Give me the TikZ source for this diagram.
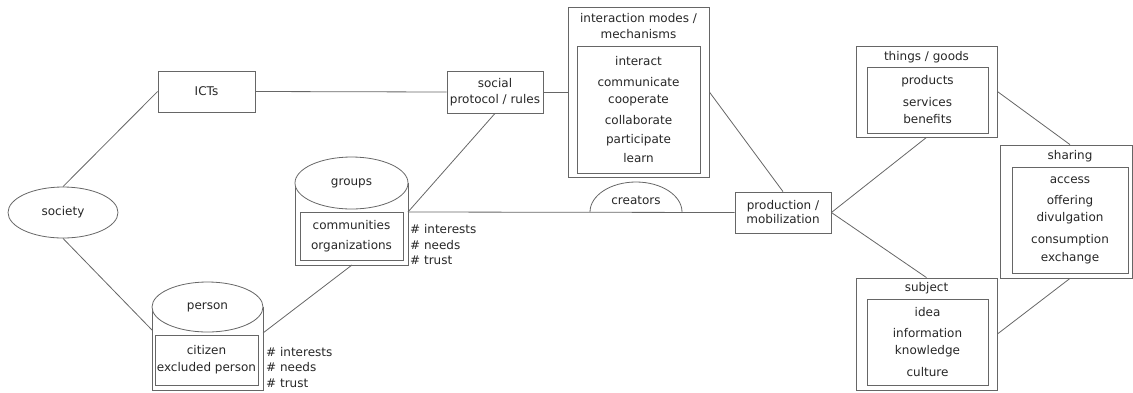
\documentclass[tikz,border=0pt]{standalone}
\usepackage{fontspec}
\setmainfont{DejaVu Sans}
\usetikzlibrary{shapes.geometric}
\begin{document}
\begin{tikzpicture}[x=1pt,y=-1pt,
  every node/.style={font=\fontsize{12}{13}\selectfont, text=black!85},
  box/.style={draw=black!60, line width=0.8pt, rectangle, inner sep=0pt, align=center},
  ell/.style={draw=black!60, line width=0.8pt, ellipse, inner sep=0pt},
  conn/.style={draw=black!60, line width=0.8pt},
  lbl/.style={inner sep=0pt, align=center},
]
\useasboundingbox (0,0) rectangle (1133,392);

% society and ICTs
\node[ell, minimum width=110pt, minimum height=51pt] (society) at (63,212.5) {society};
\node[box, minimum width=97pt, minimum height=41pt] (icts) at (206.5,91.5) {ICTs};
\node[box, minimum width=96pt, minimum height=42pt] (social) at (495,92) {social\\[3pt]protocol / rules};

% interaction modes
\node[box, minimum width=141pt, minimum height=170pt] (interO) at (638.5,92) {};
\node[lbl] (interT) at (638.5,26) {interaction modes /\\[3pt]mechanisms};
\node[box, minimum width=123pt, minimum height=127pt] (interI) at (638.5,109.5)
  {interact\\[8pt]communicate\\[4pt]cooperate\\[8pt]collaborate\\[6pt]participate\\[6pt]learn};

% groups cylinder
\draw[conn] (295,183) -- (295,265) -- (408,265) -- (408,183);
\node[ell, fill=white, minimum width=113pt, minimum height=52pt] (groups) at (351.5,183) {groups};
\node[box, minimum width=103pt, minimum height=48pt] (groupsI) at (351.5,236) {communities\\[7pt]organizations};
\node[lbl, anchor=west, align=left] (groupsA) at (410,245) {\# interests\\[3pt]\# needs\\[2pt]\# trust};

% person cylinder
\draw[conn] (152,307) -- (152,390) -- (263,390) -- (263,307);
\node[ell, fill=white, minimum width=111pt, minimum height=50pt] (person) at (207.5,307) {person};
\node[box, minimum width=103pt, minimum height=50pt] (personI) at (206.5,360) {citizen\\[4pt]excluded person};
\node[lbl, anchor=west, align=left] (personA) at (266,367.5) {\# interests\\[2pt]\# needs\\[3pt]\# trust};

% creators
\draw[conn] (590,212) arc[start angle=180, end angle=0, x radius=46pt, y radius=30pt];
\node[lbl] (creators) at (636,200) {creators};

% production
\node[box, minimum width=96pt, minimum height=41pt] (prod) at (783,212.5) {production /\\[1pt]mobilization};

% things / goods
\node[box, minimum width=141pt, minimum height=91pt] (thingsO) at (926.5,91.5) {};
\node[lbl] (thingsT) at (926.5,57) {things / goods};
\node[box, minimum width=121pt, minimum height=66pt] (thingsI) at (927.5,100) {products\\[9pt]services\\[4pt]benefits};

% subject
\node[box, minimum width=141pt, minimum height=112pt] (subjO) at (926.5,334) {};
\node[lbl] (subjT) at (926.5,288) {subject};
\node[box, minimum width=121pt, minimum height=86pt] (subjI) at (927.5,342) {idea\\[8pt]information\\[4pt]knowledge\\[9pt]culture};

% sharing
\node[box, minimum width=132pt, minimum height=133pt] (shareO) at (1066.3,211.5) {};
\node[lbl] (shareT) at (1070,156) {sharing};
\node[box, minimum width=116pt, minimum height=106pt] (shareI) at (1070,220) {access\\[8pt]offering\\[4pt]divulgation\\[9pt]consumption\\[5pt]exchange};

% connection points
\coordinate (gR) at (408,212);
\coordinate (gB) at (352,265);
\coordinate (pL) at (152,330);
\coordinate (pR) at (263,333);

% connectors
\draw[conn] (society.north) -- (icts.west);
\draw[conn] (icts.east) -- (social.west);
\draw[conn] (social.east) -- (interO.west |- social.east);
\draw[conn] (social.south) -- (gR);
\draw[conn] (gR) -- (prod.west);
\draw[conn] (interO.east) -- (prod.north);
\draw[conn] (society.south) -- (pL);
\draw[conn] (gB) -- (pR);
\draw[conn] (prod.east) -- (thingsO.south);
\draw[conn] (prod.east) -- (subjO.north);
\draw[conn] (thingsO.east) -- (shareI.north |- shareO.north);
\draw[conn] (subjO.east) -- (shareI.south |- shareO.south);
\end{tikzpicture}
\end{document}
